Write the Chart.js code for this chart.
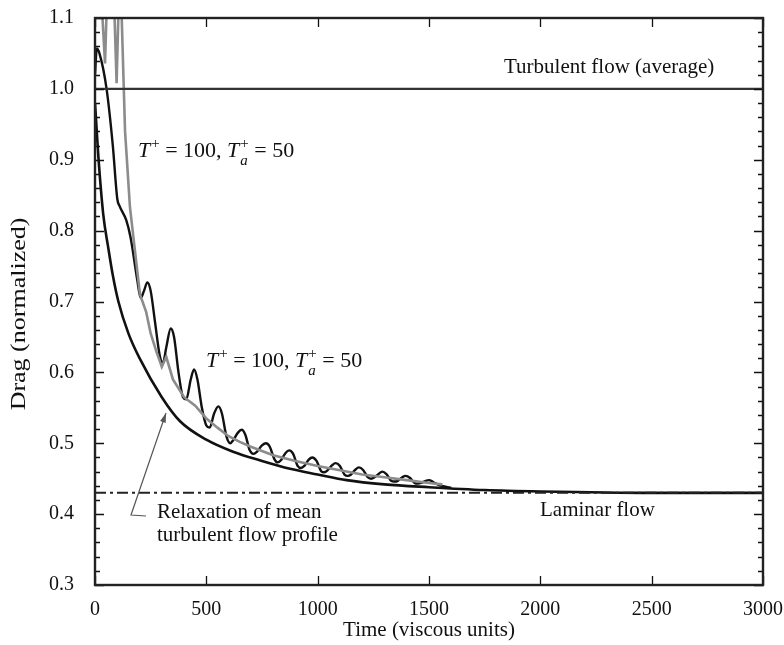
<!DOCTYPE html>
<html>
<head>
<meta charset="utf-8">
<script src="https://cdn.jsdelivr.net/npm/chart.js@4.4.1/dist/chart.umd.min.js"></script>
<style>
  html, body { margin: 0; padding: 0; background: #fff; }
  #wrap { width: 784px; height: 645px; }
</style>
</head>
<body>
<div id="wrap"><canvas id="c" width="784" height="645"></canvas></div>
<script>
// axis ticks
var xTicks = [0, 500, 1000, 1500, 2000, 2500, 3000];
var yTicks = [0.3, 0.4, 0.5, 0.6, 0.7, 0.8, 0.9, 1.0, 1.1];

// reference levels
var turbulentLevel = 1.0;
var laminarLevel = 0.43;

// relaxation of mean turbulent flow profile (smooth black)
var relaxT = [0, 5, 15, 37, 60, 80, 105, 150, 200, 300, 382, 500, 620, 750, 876, 1000, 1130, 1300, 1500, 1750, 2000, 2500, 3000];
var relaxV = [0.98, 0.955, 0.905, 0.823, 0.775, 0.737, 0.70, 0.655, 0.62, 0.565, 0.531, 0.505, 0.488, 0.475, 0.464, 0.456, 0.448, 0.442, 0.438, 0.434, 0.432, 0.43, 0.43];

// oscillating black curve
var blackT = [0, 8, 20, 52, 80, 100, 110, 140, 160, 190, 205, 220, 235, 250, 270, 290, 305, 320, 340, 355, 375, 395, 410, 430, 445, 460, 480, 500, 515, 535, 554, 570, 590, 607, 622, 642, 659, 675, 695, 712, 727, 750, 768, 785, 805, 820, 835, 855, 872, 890, 910, 925, 940, 960, 976, 995, 1015, 1030, 1045, 1065, 1080, 1100, 1120, 1135, 1150, 1170, 1185, 1205, 1225, 1240, 1255, 1275, 1290, 1310, 1330, 1345, 1360, 1380, 1395, 1415, 1435, 1450, 1465, 1485, 1500, 1520, 1545, 1570, 1600];
var blackV = [1.02, 1.057, 1.05, 1.0, 0.92, 0.845, 0.835, 0.815, 0.79, 0.73, 0.705, 0.715, 0.727, 0.715, 0.67, 0.625, 0.613, 0.635, 0.662, 0.65, 0.60, 0.565, 0.562, 0.59, 0.604, 0.59, 0.55, 0.525, 0.522, 0.542, 0.552, 0.542, 0.51, 0.50, 0.505, 0.515, 0.519, 0.512, 0.49, 0.485, 0.488, 0.497, 0.50, 0.495, 0.478, 0.473, 0.476, 0.486, 0.49, 0.485, 0.468, 0.465, 0.468, 0.477, 0.48, 0.475, 0.461, 0.459, 0.462, 0.469, 0.472, 0.468, 0.456, 0.454, 0.456, 0.463, 0.466, 0.462, 0.452, 0.45, 0.452, 0.457, 0.46, 0.456, 0.447, 0.446, 0.447, 0.452, 0.454, 0.451, 0.444, 0.443, 0.444, 0.447, 0.448, 0.445, 0.441, 0.439, 0.437];

// gray curve (starts above the top of the frame)
var grayT = [0, 15, 30, 45, 55, 70, 85, 97, 108, 120, 135, 157, 180, 202, 230, 250, 275, 300, 320, 350, 400, 450, 500, 550, 600, 650, 700, 800, 900, 1000, 1100, 1200, 1300, 1400, 1500, 1560];
var grayV = [1.2, 1.16, 1.12, 1.036, 1.14, 1.16, 1.13, 1.008, 1.14, 1.1, 0.94, 0.833, 0.77, 0.71, 0.685, 0.655, 0.63, 0.608, 0.622, 0.59, 0.565, 0.553, 0.535, 0.522, 0.51, 0.502, 0.495, 0.483, 0.475, 0.468, 0.462, 0.456, 0.452, 0.448, 0.444, 0.442];

function pts(xs, ys) {
    var out = [];
    for (var i = 0; i < xs.length; i++) out.push({ x: xs[i], y: ys[i] });
    return out;
}

var SERIF = '"Liberation Serif", "DejaVu Serif", serif';

// T+ = 100, Ta+ = 50 with super/subscripts
function drawTLabel(ctx, x, y) {
    ctx.save();
    ctx.fillStyle = '#111';
    ctx.textBaseline = 'alphabetic';
    ctx.textAlign = 'left';
    var big = 'italic 22px ' + SERIF, reg = '22px ' + SERIF, small = '15px ' + SERIF, smallI = 'italic 15px ' + SERIF;
    ctx.font = big; ctx.fillText('T', x, y); x += ctx.measureText('T').width + 1;
    ctx.font = small; ctx.fillText('+', x, y - 9); x += ctx.measureText('+').width;
    ctx.font = reg; ctx.fillText(' = 100, ', x, y); x += ctx.measureText(' = 100, ').width;
    ctx.font = big; ctx.fillText('T', x, y); x += ctx.measureText('T').width + 1;
    ctx.font = small; ctx.fillText('+', x, y - 9);
    var w = ctx.measureText('+').width;
    ctx.font = smallI; ctx.fillText('a', x, y + 8);
    x += Math.max(w, ctx.measureText('a').width);
    ctx.font = reg; ctx.fillText(' = 50', x, y);
    ctx.restore();
}

var framePlugin = {
    id: 'frame',
    afterDraw: function (chart) {
        var ctx = chart.ctx, a = chart.chartArea;
        var xs = chart.scales.x, ys = chart.scales.y;
        ctx.save();
        ctx.strokeStyle = '#111';
        ctx.lineWidth = 1.3;
        // inward ticks on all four sides
        ctx.beginPath();
        for (var i = 0; i < xTicks.length; i++) {
            var px = Math.round(xs.getPixelForValue(xTicks[i])) + 0.5;
            ctx.moveTo(px, a.bottom); ctx.lineTo(px, a.bottom - 9);
            ctx.moveTo(px, a.top); ctx.lineTo(px, a.top + 9);
        }
        for (var k = 0; k <= 40; k++) {
            var v = 0.3 + k * 0.02;
            var py = Math.round(ys.getPixelForValue(v)) + 0.5;
            var len = (k % 5 === 0) ? 9 : 5;
            ctx.moveTo(a.left, py); ctx.lineTo(a.left + len, py);
            ctx.moveTo(a.right, py); ctx.lineTo(a.right - len, py);
        }
        ctx.stroke();
        // frame
        ctx.lineWidth = 2.4;
        ctx.strokeStyle = '#222';
        ctx.strokeRect(a.left, a.top, a.right - a.left, a.bottom - a.top);

        // y axis title, stretched along its length like the original
        ctx.save();
        ctx.fillStyle = '#111';
        ctx.font = '20px ' + SERIF;
        ctx.textAlign = 'center';
        ctx.textBaseline = 'middle';
        ctx.translate(20, 314);
        ctx.rotate(-Math.PI / 2);
        ctx.scale(1.3, 1);
        ctx.fillText('Drag (normalized)', 0, 0);
        ctx.restore();

        // texts
        ctx.fillStyle = '#111';
        ctx.font = '21px ' + SERIF;
        ctx.textAlign = 'left';
        ctx.textBaseline = 'alphabetic';
        ctx.fillText('Turbulent flow (average)', 504, 73);
        ctx.fillText('Laminar flow', 540, 516);
        ctx.fillText('Relaxation of mean', 157, 518);
        ctx.fillText('turbulent flow profile', 157, 541);
        drawTLabel(ctx, 138, 157);
        drawTLabel(ctx, 206, 367);

        // arrow to relaxation curve
        ctx.strokeStyle = '#555';
        ctx.fillStyle = '#555';
        ctx.lineWidth = 1.2;
        ctx.beginPath();
        ctx.moveTo(146, 516);
        ctx.lineTo(131, 515);
        ctx.lineTo(166, 413);
        ctx.stroke();
        var ang = Math.atan2(413 - 515, 166 - 131);
        ctx.beginPath();
        ctx.moveTo(166, 413);
        ctx.lineTo(166 - 10 * Math.cos(ang - 0.3), 413 - 10 * Math.sin(ang - 0.3));
        ctx.lineTo(166 - 10 * Math.cos(ang + 0.3), 413 - 10 * Math.sin(ang + 0.3));
        ctx.closePath();
        ctx.fill();
        ctx.restore();
    }
};

var ctx = document.getElementById('c').getContext('2d');
var chart = new Chart(ctx, {
    type: 'line',
    data: {
        datasets: [
            { data: pts([0, 3000], [laminarLevel, laminarLevel]), borderColor: '#222', borderWidth: 2, borderDash: [11, 4, 3, 4], pointRadius: 0 },
            { data: pts([0, 3000], [turbulentLevel, turbulentLevel]), borderColor: '#333', borderWidth: 2.4, pointRadius: 0 },
            { data: pts(relaxT, relaxV), borderColor: '#111', borderWidth: 2.6, pointRadius: 0, cubicInterpolationMode: 'monotone' },
            { data: pts(grayT, grayV), borderColor: '#8c8c8c', borderWidth: 2.6, pointRadius: 0, tension: 0 },
            { data: pts(blackT, blackV), borderColor: '#111', borderWidth: 2.4, pointRadius: 0, cubicInterpolationMode: 'monotone' }
        ]
    },
    options: {
        responsive: false,
        animation: false,
        events: [],
        layout: { padding: { top: 18, right: 21, left: 0, bottom: 0 } },
        plugins: { legend: { display: false }, tooltip: { enabled: false } },
        scales: {
            x: {
                type: 'linear', min: 0, max: 3000,
                grid: { display: false }, border: { display: false },
                afterBuildTicks: function (s) { s.ticks = xTicks.map(function (v) { return { value: v }; }); },
                afterFit: function (s) { s.height = 60; s.paddingLeft = 0; s.paddingRight = 0; },
                ticks: { color: '#111', padding: 5, maxRotation: 0, font: { family: SERIF, size: 20 },
                    callback: function (v) { return String(v); } },
                title: { display: true, text: 'Time (viscous units)', color: '#111', padding: { top: 0, bottom: 1.5 },
                    font: { family: SERIF, size: 21 } }
            },
            y: {
                type: 'linear', min: 0.3, max: 1.1,
                grid: { display: false }, border: { display: false },
                afterBuildTicks: function (s) { s.ticks = yTicks.map(function (v) { return { value: v }; }); },
                afterFit: function (s) { s.width = 95; s.paddingTop = 0; s.paddingBottom = 0; },
                ticks: { color: '#111', padding: 13, font: { family: SERIF, size: 20 },
                    callback: function (v) { return v.toFixed(1); } }
            }
        }
    },
    plugins: [framePlugin]
});
</script>
</body>
</html>
